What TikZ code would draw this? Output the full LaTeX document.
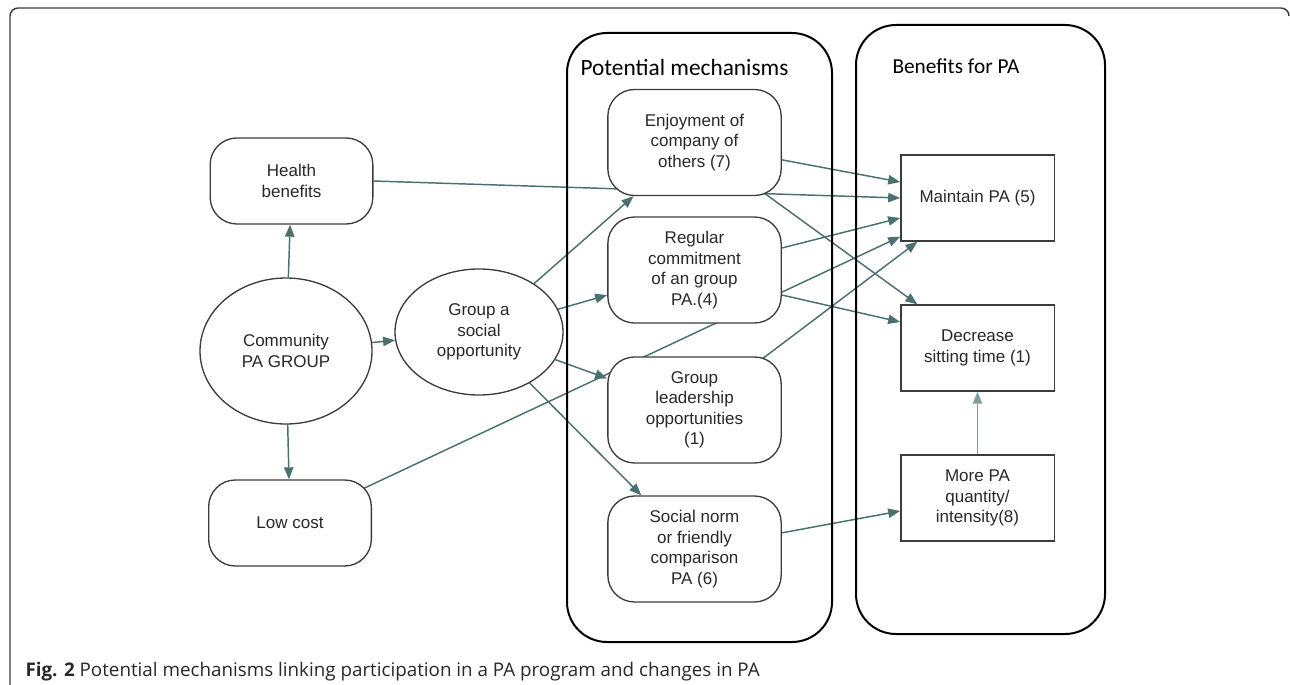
\documentclass[tikz,border=0pt]{standalone}
\usepackage{fontspec}
\setmainfont{Liberation Sans}
\newfontfamily\headfont{Carlito}
\newfontfamily\capfont{Open Sans}
\usetikzlibrary{arrows.meta,backgrounds,shapes.geometric}

\definecolor{linkcol}{RGB}{74,112,112}
\definecolor{softlink}{RGB}{128,158,158}
\definecolor{boxline}{RGB}{60,60,60}
\definecolor{boxtext}{RGB}{40,40,40}

\tikzset{every picture/.style={line width=0.75pt}}
\tikzset{
  boxfont/.style={font=\fontsize{12.75}{15.4}\selectfont, text=boxtext, align=center, inner sep=0pt},
  roundbox/.style={boxfont, draw=boxline, fill=white, line width=1pt, rounded corners=20pt, minimum width=122pt, minimum height=64.5pt},
  mechbox/.style={roundbox, minimum width=130pt, minimum height=79.5pt},
  benefitbox/.style={boxfont, draw=boxline, fill=white, line width=1pt, minimum width=115pt, minimum height=64.5pt},
  oval/.style={boxfont, ellipse, draw=boxline, fill=white, line width=1pt},
  link/.style={draw=linkcol, line width=1.1pt, -{Triangle[length=9pt,width=7pt]}},
  panel/.style={draw=black, line width=1.5pt, rounded corners=30pt},
  paneltitle/.style={anchor=base west, inner sep=0pt}
}

\begin{document}
\begin{tikzpicture}[x=0.75pt,y=0.75pt,yscale=-1,xscale=1]
	\path[use as bounding box] (0,0) rectangle (1290,685);

	%Frame
	\draw [draw=boxline, line width=1.1pt, rounded corners=6pt] (10,685) -- (10,8) -- (1289,8) -- (1289,16);

	% Left column
	\node [roundbox] (health) at (291.5,181) {Health\\benefits};
	\node [oval, minimum width=129pt, minimum height=109.5pt] (community) at (286,351) {Community\\PA GROUP};
	\node [roundbox] (lowcost) at (290,523) {Low cost};
	\node [oval, minimum width=126pt, minimum height=94.5pt] (social) at (479,332) {Group a\\social\\opportunity};

	% Mechanisms
	\node [mechbox] (enjoy) at (694.5,142.5) {Enjoyment of\\company of\\others (7)};
	\node [mechbox] (commit) at (694.5,270) {Regular\\commitment\\of an group\\PA.(4)};
	\node [mechbox] (leader) at (694.5,410) {Group\\leadership\\opportunities\\(1)};
	\node [mechbox] (norm) at (694.5,549) {Social norm\\or friendly\\comparison\\PA (6)};

	% Benefits
	\node [benefitbox] (maintain) at (977.5,198) {Maintain PA (5)};
	\node [benefitbox] (sitting) at (977.5,348) {Decrease\\sitting time (1)};
	\node [benefitbox] (morepa) at (977.5,498) {More PA\\quantity/\\intensity(8)};

	% Links (yshift follows yscale=-1, so + is down)
	\begin{scope}[on background layer]
	\draw [link] (community) -- (health);
	\draw [link] (community) -- (lowcost);
	\draw [link] (community) -- (social);
	\draw [link] (health.east) -- (maintain.west);
	\draw [link] (social) -- (enjoy);
	\draw [link] (social) -- (commit);
	\draw [link] (social) -- (leader);
	\draw [link] (social) -- (norm);
	\draw [link] ([yshift=13pt]enjoy.east) -- ([yshift=-12pt]maintain.west);
	\draw [link] (enjoy.center) -- (sitting);
	\draw [link] ([yshift=-16.5pt]commit.east) -- ([yshift=15pt]maintain.west);
	\draw [link] ([yshift=18.75pt]commit.east) -- ([yshift=-19.5pt]sitting.west);
	\draw [link] (lowcost.center) -- ([yshift=29pt]maintain.west);
	\draw [link] (leader.center) -- ([xshift=-45pt]maintain.south);
	\draw [link] (norm.center) -- ([yshift=9.75pt]morepa.west);
	\draw [link, draw=softlink] (morepa) -- (sitting);
	\end{scope}

	% Panels
	\draw [panel] (567,33) rectangle (832,642);
	\draw [panel] (856,25) rectangle (1105,634);

	% Text Node
	\node [paneltitle, font=\headfont\fontsize{17.5}{20}\selectfont] (mechtitle) at (580,76) {Potential mechanisms};
	% Text Node
	\node [paneltitle, font=\headfont\fontsize{16}{18}\selectfont] (benefittitle) at (892,74) {Benefits for PA};
	% Text Node
	\node [paneltitle, font=\capfont\fontsize{14.1}{16}\selectfont, text=boxtext] (caption) at (25,676) {\textbf{Fig. 2} Potential mechanisms linking participation in a PA program and changes in PA};

\end{tikzpicture}
\end{document}
